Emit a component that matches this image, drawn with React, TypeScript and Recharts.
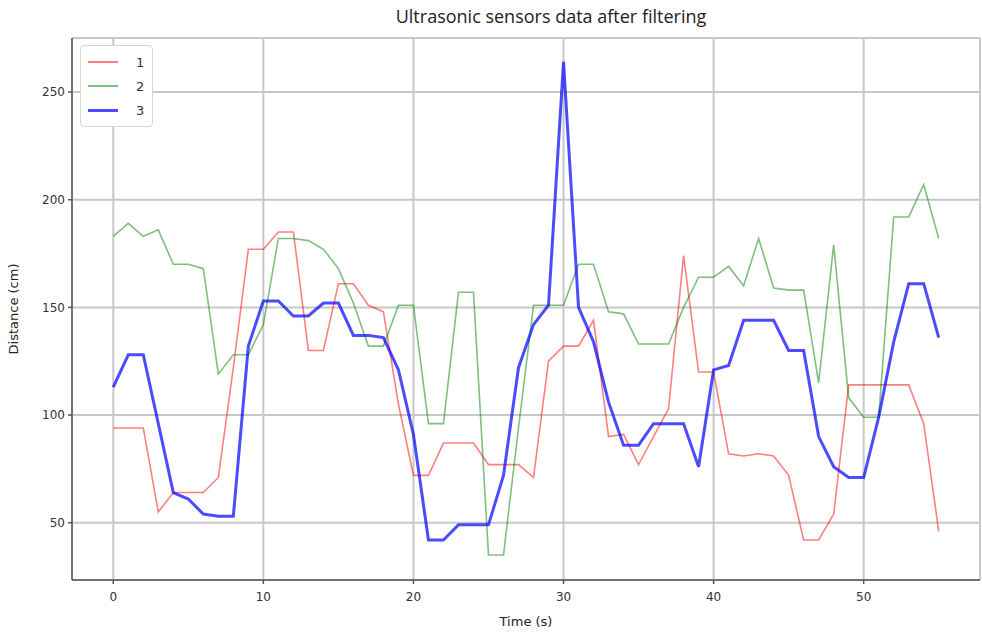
import React from 'react';
import {
    LineChart, Line, XAxis, YAxis, CartesianGrid, Legend
} from 'recharts';

// time axis, one sample per second
const time = [
    0, 1, 2, 3, 4, 5, 6, 7, 8, 9, 10, 11, 12, 13, 14, 15, 16, 17, 18, 19,
    20, 21, 22, 23, 24, 25, 26, 27, 28, 29, 30, 31, 32, 33, 34, 35, 36, 37, 38, 39,
    40, 41, 42, 43, 44, 45, 46, 47, 48, 49, 50, 51, 52, 53, 54, 55,
];

const sensor1 = [
    94, 94, 94, 55, 64, 64, 64, 71, 122, 177, 177, 185, 185, 130, 130, 161, 161, 151, 148, 105,
    72, 72, 87, 87, 87, 77, 77, 77, 71, 125, 132, 132, 144, 90, 91, 77, 90, 103, 174, 120,
    120, 82, 81, 82, 81, 72, 42, 42, 54, 114, 114, 114, 114, 114, 96, 46,
];

const sensor2 = [
    183, 189, 183, 186, 170, 170, 168, 119, 128, 128, 142, 182, 182, 181, 177, 168, 152, 132, 132, 151,
    151, 96, 96, 157, 157, 35, 35, 94, 151, 151, 151, 170, 170, 148, 147, 133, 133, 133, 150, 164,
    164, 169, 160, 182, 159, 158, 158, 115, 179, 108, 99, 99, 192, 192, 207, 182,
];

const sensor3 = [
    113, 128, 128, 96, 64, 61, 54, 53, 53, 132, 153, 153, 146, 146, 152, 152, 137, 137, 136, 121,
    91, 42, 42, 49, 49, 49, 72, 122, 142, 151, 264, 150, 134, 106, 86, 86, 96, 96, 96, 76,
    121, 123, 144, 144, 144, 130, 130, 90, 76, 71, 71, 99, 134, 161, 161, 136,
];

const xTicks = [0, 10, 20, 30, 40, 50];
const yTicks = [50, 100, 150, 200, 250];

const data = time.map((t, i) => ({
    t,
    s1: sensor1[i],
    s2: sensor2[i],
    s3: sensor3[i],
}));

const tickFont = { fontFamily: 'DejaVu Sans', fontSize: 12, fill: '#333' };
const frame = '#555';

const LegendBox = ({ payload }: any) => (
    <div style={{
        border: '1px solid #d6d6d6',
        borderRadius: 4,
        background: '#fff',
        padding: '4px 8px 4px 7px',
        fontFamily: 'DejaVu Sans',
        fontSize: 13,
        color: '#333',
    }}>
        {(payload || []).map((p: any) => (
            <div key={p.value} style={{ display: 'flex', alignItems: 'center', height: 24 }}>
                <div style={{
                    width: 30,
                    height: p.value === '3' ? 3 : 2,
                    background: p.color,
                    opacity: p.value === '3' ? 0.7 : 0.5,
                    marginRight: 18,
                }} />
                <span>{p.value}</span>
            </div>
        ))}
    </div>
);

export default function App() {
    return (
        <div style={{ position: 'relative', width: 982, height: 634, background: '#fff' }}>
            <style>{'body{margin:0}'}</style>
            <div style={{
                position: 'absolute', top: 4, left: 346, width: 410, textAlign: 'center',
                fontFamily: 'Open Sans', fontSize: 18, color: '#222', zIndex: 2,
            }}>
                Ultrasonic sensors data after filtering
            </div>
            <LineChart
                width={982}
                height={634}
                data={data}
                margin={{ top: 38, right: 2, bottom: 0, left: 0 }}
            >
                <CartesianGrid stroke="#c8c8c8" strokeWidth={2} />
                <XAxis
                    dataKey="t"
                    type="number"
                    domain={[-2.75, 57.75]}
                    ticks={xTicks}
                    allowDataOverflow
                    height={54}
                    stroke={frame}
                    strokeWidth={1.5}
                    tickSize={4}
                    tickMargin={8}
                    tick={tickFont}
                    label={{
                        value: 'Time (s)', position: 'insideBottom', offset: 8,
                        style: { fontFamily: 'DejaVu Sans', fontSize: 13, fill: '#222' },
                    }}
                />
                <XAxis
                    xAxisId="top"
                    orientation="top"
                    dataKey="t"
                    type="number"
                    domain={[-2.75, 57.75]}
                    height={0}
                    tick={false}
                    tickLine={false}
                    stroke={frame}
                    strokeWidth={1.5}
                />
                <YAxis
                    type="number"
                    domain={[23.4, 275.1]}
                    ticks={yTicks}
                    allowDataOverflow
                    width={72}
                    stroke={frame}
                    strokeWidth={1.5}
                    tickSize={4}
                    tickMargin={3}
                    tick={tickFont}
                    label={{
                        value: 'Distance (cm)', angle: -90, position: 'insideLeft', offset: 13,
                        style: { fontFamily: 'DejaVu Sans', fontSize: 13, fill: '#222', textAnchor: 'middle' },
                    }}
                />
                <YAxis
                    yAxisId="right"
                    orientation="right"
                    width={0}
                    tick={false}
                    tickLine={false}
                    stroke={frame}
                    strokeWidth={1.5}
                />
                <Legend
                    layout="vertical"
                    align="center"
                    verticalAlign="middle"
                    wrapperStyle={{ left: 80, top: 45, width: 'auto' }}
                    content={<LegendBox />}
                />
                <Line
                    dataKey="s1"
                    name="1"
                    stroke="#ff0000"
                    strokeOpacity={0.5}
                    strokeWidth={1.6}
                    dot={false}
                    isAnimationActive={false}
                />
                <Line
                    dataKey="s2"
                    name="2"
                    stroke="#008000"
                    strokeOpacity={0.5}
                    strokeWidth={1.6}
                    dot={false}
                    isAnimationActive={false}
                />
                <Line
                    dataKey="s3"
                    name="3"
                    stroke="#0000ff"
                    strokeOpacity={0.7}
                    strokeWidth={3}
                    dot={false}
                    isAnimationActive={false}
                />
            </LineChart>
        </div>
    );
}
